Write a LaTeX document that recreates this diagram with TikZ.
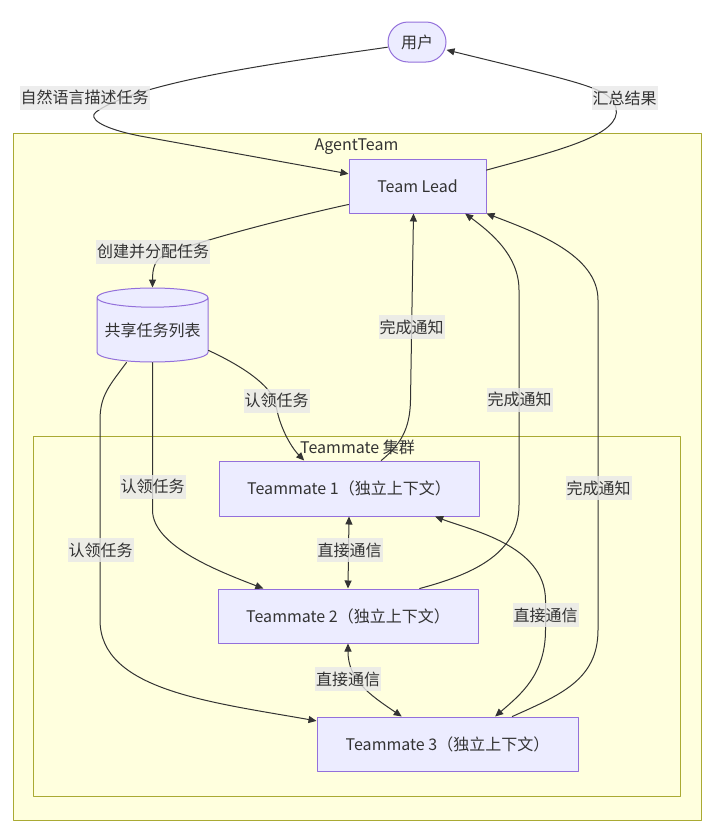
\documentclass[tikz,border=0pt]{standalone}
\usepackage{fontspec}
\setmainfont{Noto Sans CJK SC}
\usetikzlibrary{shapes.geometric,arrows.meta}
\definecolor{ink}{HTML}{333333}
\definecolor{nodefill}{HTML}{ECECFF}
\definecolor{nodeline}{HTML}{9370DB}
\definecolor{clusterfill}{HTML}{FFFFDE}
\definecolor{clusterline}{HTML}{AAAA33}
\definecolor{lblfill}{HTML}{E8E8E8}
\begin{document}
\begin{tikzpicture}[x=1pt,y=1pt,line cap=round,line join=round,
  >={Triangle[length=8pt,width=7pt]},
  font=\fontsize{16}{19}\selectfont,text=ink,
  cluster/.style={draw=clusterline,fill=clusterfill,line width=1pt},
  box/.style={draw=nodeline,fill=nodefill,line width=1pt,inner sep=0pt},
  flow/.style={draw=ink,line width=1pt,->},
  talk/.style={draw=ink,line width=1pt,<->},
  lbl/.style={fill=lblfill,fill opacity=0.8,text opacity=1,inner xsep=1pt,inner ysep=0pt,minimum height=24pt}]
  \useasboundingbox (0,0) rectangle (721,-830);
  \draw[cluster] (13,-133) rectangle (701,-820);
  \node (agentteam) at (356.5,-147) {AgentTeam};
  \draw[cluster] (33,-436) rectangle (680,-796);
  \node (mates) at (357.5,-447) {Teammate 集群};

  \node[box,rounded corners=20pt,minimum width=58pt,minimum height=40pt] (user) at (417,-42) {用户};
  \node[box,minimum width=137pt,minimum height=54pt] (lead) at (417.5,-186) {Team Lead};
  \node[box,cylinder,shape border rotate=90,aspect=0.2,minimum width=111pt,minimum height=74pt,anchor=shape center] (list) at (152.5,-325) {共享任务列表};
  \node[box,minimum width=260pt,minimum height=55pt] (tm1) at (349,-488.5) {Teammate 1（独立上下文）};
  \node[box,minimum width=260pt,minimum height=54pt] (tm2) at (348,-616) {Teammate 2（独立上下文）};
  \node[box,minimum width=261pt,minimum height=54pt] (tm3) at (447.5,-744) {Teammate 3（独立上下文）};

  \draw[flow] (user.190) .. controls (300,-60) and (140,-80) .. (96,-112)
    .. controls (88,-118) and (100,-128) .. (140,-136) -- (lead.170);
  \draw[flow] (lead.13) .. controls (560,-150) and (622,-135) .. (616,-108)
    .. controls (611,-88) and (585,-84) .. (user.-15);
  \draw[flow] (lead.195) .. controls (300,-215) and (200,-240) .. (165,-255)
    .. controls (155,-259) and (152.5,-268) .. (list.north);
  \draw[flow] (list.-20) .. controls (240,-365) and (272,-385) .. (276,-405)
    .. controls (279,-425) and (290,-446) .. (tm1.148);
  \draw[flow] (list.south) -- (152.5,-510) .. controls (152.5,-545) and (215,-570) .. (tm2.162);
  \draw[flow] ([xshift=-26pt]list.south) .. controls (110,-385) and (100,-395) .. (100,-420)
    -- (100,-620) .. controls (100,-690) and (210,-702) .. (tm3.170);
  \draw[flow] (tm1.41) .. controls (400,-445) and (410,-430) .. (410.5,-400) -- ([xshift=-4pt]lead.south);
  \draw[flow] (tm2.21) .. controls (470,-575) and (519,-555) .. (519,-505) -- (519,-290)
    .. controls (519,-255) and (490,-232) .. (lead.-30);
  \draw[flow] (tm3.23) .. controls (560,-695) and (598,-680) .. (598,-630) -- (598,-300)
    .. controls (598,-255) and (535,-232) .. (lead.south east);
  \draw[talk] (tm1.south) -- (tm2.north);
  \draw[talk] (tm1.-18) .. controls (470,-530) and (545,-545) .. (545.5,-600) -- (545.5,-630)
    .. controls (545.5,-675) and (520,-695) .. (tm3.30);
  \draw[talk] (tm2.south) .. controls (348,-680) and (370,-695) .. (tm3.149);

  \node[lbl] (describe) at (84.5,-97.5) {自然语言描述任务};
  \node[lbl] (summary) at (624.5,-98) {汇总结果};
  \node[lbl] (assign) at (153,-251.5) {创建并分配任务};
  \node[lbl] (claim1) at (276.5,-400.5) {认领任务};
  \node[lbl] (claim2) at (152.5,-486.7) {认领任务};
  \node[lbl] (claim3) at (100.5,-550) {认领任务};
  \node[lbl] (done1) at (411.5,-327) {完成通知};
  \node[lbl] (done2) at (519.5,-399.5) {完成通知};
  \node[lbl] (done3) at (598.5,-488) {完成通知};
  \node[lbl] (talk12) at (349.5,-550) {直接通信};
  \node[lbl] (talk13) at (545.5,-615) {直接通信};
  \node[lbl] (talk23) at (348,-679) {直接通信};
\end{tikzpicture}
\end{document}
